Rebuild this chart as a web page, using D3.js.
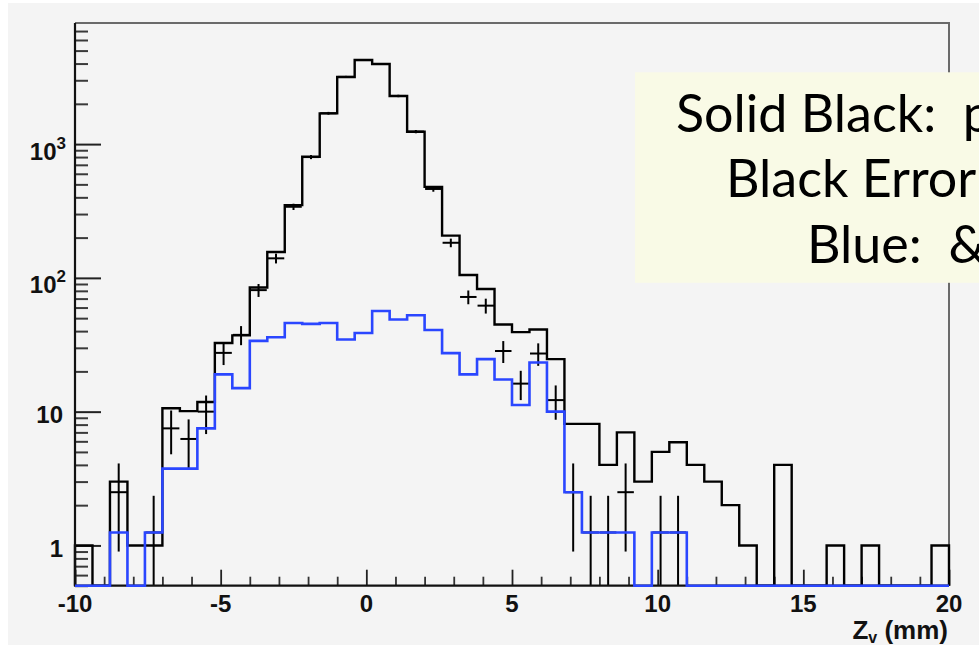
<!DOCTYPE html>
<html>
<head>
<meta charset="utf-8">
<script src="https://cdn.jsdelivr.net/npm/d3@7"></script>
<style>
  html, body { margin: 0; padding: 0; background: #ffffff; overflow: hidden; }
  svg { display: block; }
</style>
</head>
<body>
<svg id="chart" width="979" height="645"></svg>
<script>
// ---------------- DATA ----------------
const binLeft = [-10, -9.4, -8.8, -8.2, -7.6, -7, -6.4, -5.8, -5.2, -4.6,
  -4, -3.4, -2.8, -2.2, -1.6, -1, -0.4, 0.2, 0.8, 1.4,
  2, 2.6, 3.2, 3.8, 4.4, 5, 5.6, 6.2, 6.8, 7.4,
  8, 8.6, 9.2, 9.8, 10.4, 11, 11.6, 12.2, 12.8, 13.4,
  14, 14.6, 15.2, 15.8, 16.4, 17, 17.6, 18.2, 18.8, 19.4];
const binRight = [-9.4, -8.8, -8.2, -7.6, -7, -6.4, -5.8, -5.2, -4.6, -4,
  -3.4, -2.8, -2.2, -1.6, -1, -0.4, 0.2, 0.8, 1.4, 2,
  2.6, 3.2, 3.8, 4.4, 5, 5.6, 6.2, 6.8, 7.4, 8,
  8.6, 9.2, 9.8, 10.4, 11, 11.6, 12.2, 12.8, 13.4, 14,
  14.6, 15.2, 15.8, 16.4, 17, 17.6, 18.2, 18.8, 19.4, 20];

// solid black histogram
const solidBlack = [1, 0, 3, 1, 1, 10.6, 10.1, 11.8, 32.6, 37.2,
  84.7, 156, 350, 804, 1697, 3170, 4250, 3966, 2290, 1236,
  479, 207, 105, 82.5, 44.8, 39.3, 41.1, 24.7, 8.1, 8.1,
  4, 7, 3, 5, 5.9, 4, 3, 2, 1, 0,
  4, 0, 0, 1, 0, 1, 0, 0, 0, 1];

// black points with error bars
const blackPoints = [0, 0, 2.5, 0, 1.25, 7.5, 6.25, 10, 27.5, 37.5,
  81, 140, 340, 800, 1700, 3180, 4250, 3970, 2290, 1240,
  462, 183, 72, 62, 28.4, 16.2, 27.2, 12.2, 2.5, 1.25,
  1.25, 2.5, 0, 1.25, 1.25, 0, 0, 0, 0, 0,
  0, 0, 0, 0, 0, 0, 0, 0, 0, 0];
const blackErrors = [0, 0, 1.6, 0, 1.1, 2.7, 2.5, 3.2, 5.2, 6.1,
  9, 11.8, 18.4, 28, 41, 56, 65, 63, 48, 35,
  21.5, 13.5, 8.5, 7.9, 5.3, 4, 5.2, 3.5, 1.6, 1.1,
  1.1, 1.6, 0, 1.1, 1.1, 0, 0, 0, 0, 0,
  0, 0, 0, 0, 0, 0, 0, 0, 0, 0];

// blue histogram
const blueHist = [0, 0, 1.25, 0, 1.25, 3.75, 3.75, 7.5, 19, 15,
  33.8, 36, 46, 45.3, 46, 34.6, 38.7, 56.6, 48.8, 52.6,
  40.8, 27.4, 19, 24.7, 17.4, 11.2, 23.3, 10, 2.5, 1.25,
  1.25, 1.25, 0, 1.25, 1.25, 0, 0, 0, 0, 0,
  0, 0, 0, 0, 0, 0, 0, 0, 0, 0];

const xMajorTicks = [-10, -5, 0, 5, 10, 15, 20];
const xTickLabels = ["-10", "-5", "0", "5", "10", "15", "20"];
const xMinorTicks = [-9, -8, -7, -6, -4, -3, -2, -1, 1, 2, 3, 4, 6, 7, 8, 9,
  11, 12, 13, 14, 16, 17, 18, 19];
const yMajorTicks = [1, 10, 100, 1000];
const yTickBase = ["1", "10", "10", "10"];
const yTickExp = ["", "", "2", "3"];
const yMinorTicks = [0.5, 0.6, 0.7, 0.8, 0.9, 2, 3, 4, 5, 6, 7, 8, 9,
  20, 30, 40, 50, 60, 70, 80, 90, 200, 300, 400, 500, 600, 700, 800, 900,
  2000, 3000, 4000, 5000, 6000, 7000];
const xTitleMain = "Z";
const xTitleSub = "v";
const xTitleUnit = " (mm)";
const legendLines = ["Solid Black:  prompt", "Black Error Bars:  data", "Blue:  &amp;"];

// ---------------- LAYOUT ----------------
const svg = d3.select("#chart");
const L = 75, R = 949, T = 23, B = 585.7;
const yMin = 0.5, yMax = 8040;
const x = d3.scaleLinear().domain([-10, 20]).range([L, R]);
const y = d3.scaleLog().domain([yMin, yMax]).range([B, T]);
const yc = v => y(Math.max(v, yMin));

// background
svg.append("rect").attr("x", 8).attr("y", 3).attr("width", 979).attr("height", 645).attr("fill", "#f4f4f4");

// frame (top & right)
svg.append("path")
  .attr("d", `M${L},${T}H${R}V${B}`)
  .attr("fill", "none").attr("stroke", "#6a6a6a").attr("stroke-width", 2);

// axes with inside ticks
const gx = svg.append("g");
gx.append("g").attr("transform", `translate(0,${B})`)
  .call(d3.axisBottom(x).tickValues(xMinorTicks).tickSize(-9).tickFormat("").tickSizeOuter(0))
  .call(g => g.select(".domain").remove())
  .call(g => g.selectAll("line").attr("stroke", "#333").attr("stroke-width", 1.8));
gx.append("g").attr("transform", `translate(0,${B})`)
  .call(d3.axisBottom(x).tickValues(xMajorTicks).tickSize(-16).tickFormat("").tickSizeOuter(0))
  .call(g => g.select(".domain").remove())
  .call(g => g.selectAll("line").attr("stroke", "#222").attr("stroke-width", 1.8));

const gy = svg.append("g");
gy.append("g").attr("transform", `translate(${L},0)`)
  .call(d3.axisLeft(y).tickValues(yMinorTicks).tickSize(-13).tickFormat("").tickSizeOuter(0))
  .call(g => g.select(".domain").remove())
  .call(g => g.selectAll("line").attr("stroke", "#3a3a3a").attr("stroke-width", 2));
gy.append("g").attr("transform", `translate(${L},0)`)
  .call(d3.axisLeft(y).tickValues(yMajorTicks).tickSize(-26).tickFormat("").tickSizeOuter(0))
  .call(g => g.select(".domain").remove())
  .call(g => g.selectAll("line").attr("stroke", "#222").attr("stroke-width", 2));

// histograms
function stepPath(vals) {
  const pts = [[binLeft[0], yMin]];
  vals.forEach((v, i) => { pts.push([binLeft[i], v]); pts.push([binRight[i], v]); });
  pts.push([binRight[vals.length - 1], yMin]);
  return d3.line().x(d => x(d[0])).y(d => yc(d[1]))(pts);
}

svg.append("path").attr("d", stepPath(solidBlack))
  .attr("fill", "none").attr("stroke", "#000").attr("stroke-width", 2.4)
  .attr("stroke-linejoin", "miter");

// error crosses
const gp = svg.append("g").attr("stroke", "#000").attr("stroke-width", 2);
blackPoints.forEach((v, i) => {
  if (v <= 0) return;
  const cx = x((binLeft[i] + binRight[i]) / 2);
  gp.append("line").attr("x1", x(binLeft[i]) + 0.5).attr("x2", x(binRight[i]) - 0.5)
    .attr("y1", yc(v)).attr("y2", yc(v));
  gp.append("line").attr("x1", cx).attr("x2", cx)
    .attr("y1", yc(v + blackErrors[i])).attr("y2", yc(v - blackErrors[i]));
});

// axis lines (left & bottom)
svg.append("path").attr("d", `M${L},${T}V${B}H${R}`)
  .attr("fill", "none").attr("stroke", "#111").attr("stroke-width", 2.2);

svg.append("path").attr("d", stepPath(blueHist))
  .attr("fill", "none").attr("stroke", "#2a46ff").attr("stroke-width", 2.6)
  .attr("stroke-linejoin", "miter");

// tick labels
const font = "'Liberation Sans', Arial, Helvetica, sans-serif";
svg.append("g").selectAll("text").data(xMajorTicks).join("text")
  .attr("x", d => x(d)).attr("y", 612)
  .attr("text-anchor", "middle")
  .attr("font-family", font).attr("font-weight", "bold").attr("font-size", 24)
  .attr("fill", "#111")
  .text((d, i) => xTickLabels[i]);

const yl = svg.append("g");
yMajorTicks.forEach((v, i) => {
  const t = yl.append("text")
    .attr("x", yTickExp[i] ? 66 : 63)
    .attr("y", y(v) + (yTickExp[i] ? 15.5 : 11.5))
    .attr("text-anchor", "end")
    .attr("font-family", font).attr("font-weight", "bold").attr("font-size", 24)
    .attr("fill", "#111");
  t.append("tspan").text(yTickBase[i]);
  if (yTickExp[i]) {
    t.append("tspan").attr("dy", -11).attr("font-size", 17).text(yTickExp[i]);
  }
});

// x axis title
const tt = svg.append("text")
  .attr("x", 948).attr("y", 639)
  .attr("text-anchor", "end")
  .attr("font-family", font).attr("font-weight", "bold").attr("font-size", 26)
  .attr("fill", "#111").style("white-space", "pre");
tt.append("tspan").text(xTitleMain);
tt.append("tspan").attr("dy", 4).attr("font-size", 16).text(xTitleSub);
tt.append("tspan").attr("dy", -4).text(xTitleUnit);

// legend box
svg.append("rect").attr("x", 635).attr("y", 72.3).attr("width", 400).attr("height", 210.5)
  .attr("fill", "#f9fae6");
const legX = [676, 726, 807];
const legY = [131.7, 196.7, 262.7];
svg.append("g").selectAll("text").data(legendLines).join("text")
  .attr("x", (d, i) => legX[i]).attr("y", (d, i) => legY[i])
  .attr("font-family", "Lato, 'Open Sans', sans-serif").attr("font-size", 52)
  .attr("fill", "#000").style("white-space", "pre")
  .text(d => d);
</script>
</body>
</html>
